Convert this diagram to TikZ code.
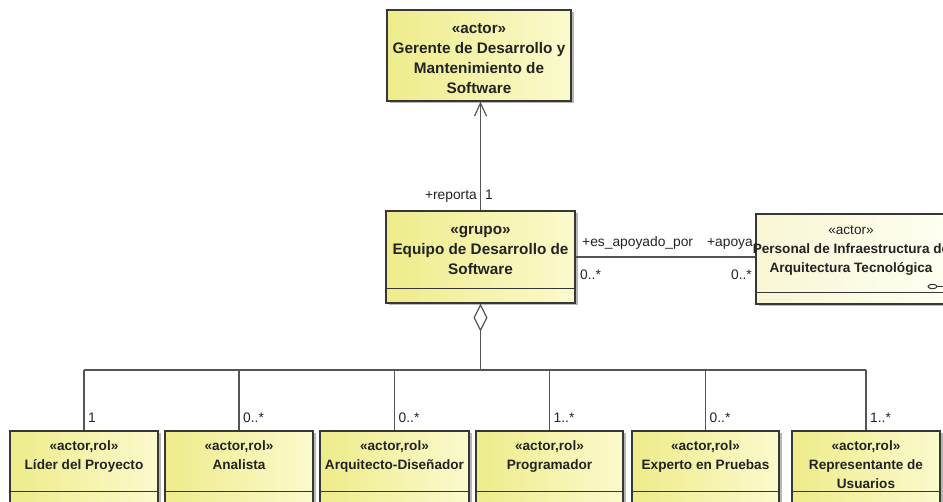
\documentclass[tikz,border=0pt]{standalone}
\usepackage{fontspec}
\setmainfont{Liberation Sans}
\usepackage{xcolor}
\usetikzlibrary{shapes.geometric, positioning, arrows.meta, shadows}
\definecolor{amaA}{RGB}{238,236,138}
\definecolor{amaB}{RGB}{251,250,205}
\definecolor{cremaA}{RGB}{248,246,212}
\definecolor{cremaB}{RGB}{255,255,242}
\definecolor{borde}{RGB}{55,55,55}
\definecolor{linea}{RGB}{85,85,85}
\definecolor{texto}{RGB}{35,35,35}

\begin{document}
\begin{tikzpicture}[x=1pt, y=-1pt,
  caja/.style={draw=borde, line width=1.3pt, left color=amaA, right color=amaB,
    drop shadow={shadow xshift=2.5pt, shadow yshift=-2.5pt, fill=black!40, opacity=0.7}, inner sep=0pt},
  titulo/.style={font=\bfseries\fontsize{15.3}{20}\selectfont, align=center, anchor=base, inner sep=0pt, text=texto},
  titulochico/.style={font=\bfseries\fontsize{13.6}{19}\selectfont, align=center, anchor=base, inner sep=0pt, text=texto},
  rotulo/.style={font=\fontsize{13.8}{16}\selectfont, inner sep=0pt, text=texto},
  enlace/.style={draw=linea, line width=1.2pt}]
\useasboundingbox (0,0) rectangle (943,502);
\clip (0,0) rectangle (943,502);
% base = last line of each title
\node[caja, minimum width=184pt, minimum height=91pt] (gerente) at (479,55.5) {};
\node[titulo] (gerenteT) at (479,94) {«actor»\\Gerente de Desarrollo y\\Mantenimiento de\\Software};
%
\node[caja, minimum width=189pt, minimum height=92pt] (equipo) at (480.5,257) {};
\draw[borde, line width=1.3pt] ([yshift=15pt]equipo.south west) -- ([yshift=15pt]equipo.south east);
\node[titulo] (equipoT) at (480.5,275) {«grupo»\\Equipo de Desarrollo de\\Software};
%
\node[caja, left color=cremaA, right color=cremaB, minimum width=194pt, minimum height=90pt] (personal) at (853,259) {};
\draw[borde, line width=1.3pt] ([yshift=12pt]personal.south west) -- ([yshift=12pt]personal.south east);
\node[titulochico] (personalT) at (851,273) {{\mdseries«actor»}\\Personal de Infraestructura de\\Arquitectura Tecnológica};
\draw[borde, line width=1pt] (932.5,286.5) ellipse [x radius=4.5pt, y radius=2.2pt];
\draw[borde, line width=1pt] (937,287) -- (943,287);
%
\node[caja, minimum width=148pt, minimum height=80pt] (lider) at (84,471) {};
\node[caja, minimum width=148pt, minimum height=80pt] (analista) at (239,471) {};
\node[caja, minimum width=149pt, minimum height=80pt] (arquitecto) at (394.5,471) {};
\node[caja, minimum width=147pt, minimum height=80pt] (programador) at (549.5,471) {};
\node[caja, minimum width=147pt, minimum height=80pt] (experto) at (705.5,471) {};
\node[caja, minimum width=148pt, minimum height=80pt] (repre) at (866,471) {};
\draw[borde, line width=1.3pt] ([yshift=20pt]lider.south west) -- ([yshift=20pt]lider.south east);
\draw[borde, line width=1.3pt] ([yshift=20pt]analista.south west) -- ([yshift=20pt]analista.south east);
\draw[borde, line width=1.3pt] ([yshift=20pt]arquitecto.south west) -- ([yshift=20pt]arquitecto.south east);
\draw[borde, line width=1.3pt] ([yshift=20pt]programador.south west) -- ([yshift=20pt]programador.south east);
\draw[borde, line width=1.3pt] ([yshift=20pt]experto.south west) -- ([yshift=20pt]experto.south east);
\draw[borde, line width=1.3pt] ([yshift=20pt]repre.south west) -- ([yshift=20pt]repre.south east);
\node[titulochico] (liderT) at (84,470) {«actor,rol»\\Líder del Proyecto};
\node[titulochico] (analistaT) at (239,470) {«actor,rol»\\Analista};
\node[titulochico] (arquitectoT) at (394.5,470) {«actor,rol»\\Arquitecto-Diseñador};
\node[titulochico] (programadorT) at (549.5,470) {«actor,rol»\\Programador};
\node[titulochico] (expertoT) at (705.5,470) {«actor,rol»\\Experto en Pruebas};
\node[titulochico] (repreT) at (866,489) {«actor,rol»\\Representante de\\Usuarios};
%
\draw[enlace, -{Straight Barb[length=13pt, width=12pt]}] (equipo.north) -- (equipo.north |- gerente.south);
\node[rotulo, anchor=base east] (reporta) at (477,200) {+reporta};
\node[rotulo, anchor=base west] (multGerente) at (485,200) {1};
%
\draw[enlace] (equipo.east) -- (equipo.east -| personal.west);
\node[rotulo, anchor=base west] (apoyado) at (582,247) {+es\_apoyado\_por};
\node[rotulo, anchor=base east] (apoya) at (753,247) {+apoya};
\node[rotulo, anchor=base west] (multEquipo) at (580,280) {0..*};
\node[rotulo, anchor=base east] (multPersonal) at (752,280) {0..*};
%
\coordinate (bus) at (480.5,370);
\draw[enlace, {Diamond[open, length=28pt, width=14pt]}-] (equipo.south) -- (bus);
\draw[enlace] (lider.north |- bus) -- (repre.north |- bus);
\draw[enlace] (lider.north |- bus) -- (lider.north);
\draw[enlace] (analista.north |- bus) -- (analista.north);
\draw[enlace] (arquitecto.north |- bus) -- (arquitecto.north);
\draw[enlace] (programador.north |- bus) -- (programador.north);
\draw[enlace] (experto.north |- bus) -- (experto.north);
\draw[enlace] (repre.north |- bus) -- (repre.north);
\node[rotulo, anchor=base west] (multLider) at ([xshift=4pt, yshift=8pt]lider.north) {1};
\node[rotulo, anchor=base west] (multAnalista) at ([xshift=4pt, yshift=8pt]analista.north) {0..*};
\node[rotulo, anchor=base west] (multArquitecto) at ([xshift=4pt, yshift=8pt]arquitecto.north) {0..*};
\node[rotulo, anchor=base west] (multProgramador) at ([xshift=4pt, yshift=8pt]programador.north) {1..*};
\node[rotulo, anchor=base west] (multExperto) at ([xshift=4pt, yshift=8pt]experto.north) {0..*};
\node[rotulo, anchor=base west] (multRepre) at ([xshift=4pt, yshift=8pt]repre.north) {1..*};
\end{tikzpicture}
\end{document}
